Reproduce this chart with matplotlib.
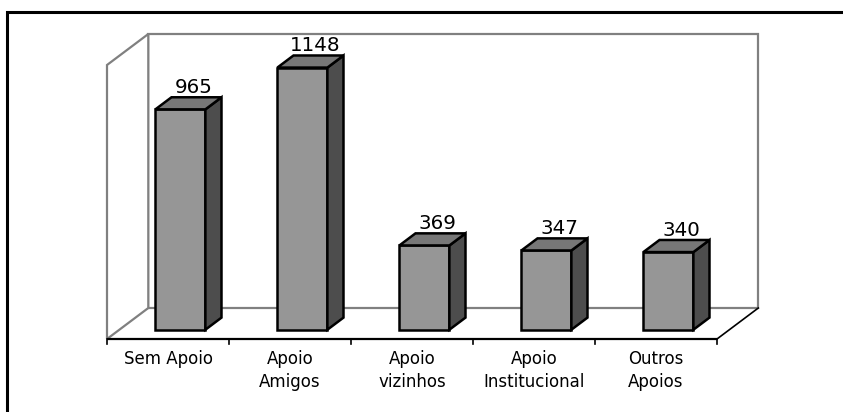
import matplotlib
matplotlib.use("Agg")
import matplotlib.pyplot as plt
from matplotlib.patches import Polygon, Rectangle

categories = ["Sem Apoio", "Apoio\nAmigos", "Apoio\nvizinhos", "Apoio\nInstitucional", "Outros\nApoios"]
values = [965, 1148, 369, 347, 340]
axis_max = 1200

plt.rcParams['font.family'] = ['DejaVu Sans']

W, H = 843, 412
fig = plt.figure(figsize=(W / 100, H / 100), dpi=100)
ax = fig.add_axes([0, 0, 1, 1])
ax.set_axis_off()

# pixel geometry -> data mapping
px_per_cat = 122.0
x_left_px = 107.0
floor_px = 339.0
px_per_val = 274.0 / axis_max
ax.set_xlim(-0.5 - x_left_px / px_per_cat, -0.5 + (W - x_left_px) / px_per_cat)
ax.set_ylim((floor_px - H) / px_per_val, floor_px / px_per_val)

DX = 41.3 / px_per_cat      # full depth offset in category units
DY = 31.0 / px_per_val      # full depth offset in value units

n = len(categories)
x0, x1 = -0.5, n - 0.5
wall_c = "#808080"

# back wall
ax.add_patch(Polygon([(x0 + DX, DY), (x1 + DX, DY), (x1 + DX, axis_max + DY), (x0 + DX, axis_max + DY)],
                     closed=True, facecolor="white", edgecolor=wall_c, lw=1.6, zorder=1))
# left wall
ax.add_patch(Polygon([(x0, 0), (x0 + DX, DY), (x0 + DX, axis_max + DY), (x0, axis_max)],
                     closed=True, facecolor="white", edgecolor=wall_c, lw=1.6, zorder=1))
# floor edges
ax.plot([x0, x1], [0, 0], color="black", lw=1.6, zorder=2, solid_capstyle="butt")
ax.plot([x1, x1 + DX], [0, DY], color="black", lw=1.2, zorder=2)
# ticks
tick_len = 5.0 / px_per_val
for k in range(n + 1):
    ax.plot([x0 + k, x0 + k], [0, -tick_len], color="black", lw=1.2, zorder=2)

# bars
d0, d1 = 0.30, 0.69
hw = 25.0 / px_per_cat
front_c, side_c, top_c = "#969696", "#4d4d4d", "#777777"
for i, v in enumerate(values):
    cx = i + d0 * DX
    by = d0 * DY
    xl, xr = cx - hw, cx + hw
    top = v + by
    ddx, ddy = (d1 - d0) * DX, (d1 - d0) * DY
    ax.add_patch(Polygon([(xl, by), (xr, by), (xr, top), (xl, top)], closed=True,
                         facecolor=front_c, edgecolor="black", lw=1.8, zorder=5, joinstyle="miter"))
    ax.add_patch(Polygon([(xr, by), (xr + ddx, by + ddy), (xr + ddx, top + ddy), (xr, top)], closed=True,
                         facecolor=side_c, edgecolor="black", lw=1.8, zorder=5, joinstyle="miter"))
    ax.add_patch(Polygon([(xl, top), (xr, top), (xr + ddx, top + ddy), (xl + ddx, top + ddy)], closed=True,
                         facecolor=top_c, edgecolor="black", lw=1.8, zorder=5, joinstyle="miter"))
    ax.text(cx + 13.0 / px_per_cat, top + ddy + 4.0 / px_per_val, f"{v}", ha="center", va="baseline",
            fontsize=14.3, color="black", zorder=6)

# category labels
for i, c in enumerate(categories):
    ax.text(i, -50.0, c, ha="center", va="top", fontsize=12, linespacing=1.3, color="black")

# outer border (only top and left visible)
fig.patches.append(Rectangle((7 / W, -0.05), 1.1, (H - 12) / H + 0.05, transform=fig.transFigure,
                             fill=False, edgecolor="black", lw=2.2))

fig.savefig("out.png", dpi=100)
